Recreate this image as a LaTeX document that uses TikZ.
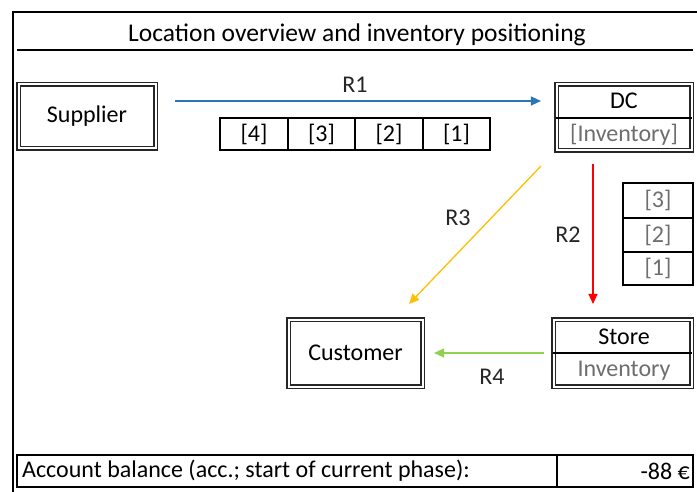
\documentclass[tikz,border=0pt]{standalone}
\usepackage{fontspec}
\setmainfont{Carlito}
\usetikzlibrary{arrows.meta}
\definecolor{arrblue}{RGB}{46,117,182}
\definecolor{arrred}{RGB}{255,0,0}
\definecolor{arryellow}{RGB}{255,192,0}
\definecolor{arrgreen}{RGB}{146,208,80}
\definecolor{invgray}{RGB}{110,110,110}
\begin{document}
\begin{tikzpicture}[x=1pt,y=-1pt,
  every node/.style={font=\fontsize{24}{28}\selectfont, inner sep=0pt},
  loc/.style={draw=black!85, line width=1.1pt, double=white, double distance=2pt, rectangle},
  cell/.style={draw=black, line width=1.1pt, rectangle},
  sep/.style={draw=black, line width=1.1pt},
  flow/.style={line width=1.3pt, -{Triangle[length=10pt,width=9pt]}},
  lbl/.style={text=black!85},
  inv/.style={text=invgray}]
\useasboundingbox (0,0) rectangle (697,492);
\fill[white] (0,0) rectangle (697,492);

% outer frame and title
\draw[line width=1.1pt] (13,492) -- (13,12) -- (697,12);
\node[font=\fontsize{25.5}{30}\selectfont] (title) at (357,35) {Location overview and inventory positioning};
\draw[line width=1.1pt] (17,50) -- (693,50);

% locations
\node[loc, minimum width=137pt, minimum height=64pt] (supplier) at (87,116.5) {Supplier};
\node[loc, minimum width=135pt, minimum height=66pt] (dc) at (624,117.5) {};
\draw[sep] (dc.west |- 0,118) -- (dc.east |- 0,118);
\node (dctop) at (624,101) {DC};
\node[inv] (dcbot) at (624,135) {[Inventory]};

\node[loc, minimum width=134pt, minimum height=67pt] (customer) at (355.5,353) {Customer};
\node[loc, minimum width=138pt, minimum height=67pt] (store) at (622.5,353) {};
\draw[sep] (store.west |- 0,353) -- (store.east |- 0,353);
\node (storetop) at (624,337) {Store};
\node[inv] (storebot) at (624,371) {Inventory};

% pipeline supplier -> DC
\node[cell, minimum width=68pt, minimum height=32pt] (q4) at (254,134) {[4]};
\node[cell, minimum width=67pt, minimum height=32pt] (q3) at (321.5,134) {[3]};
\node[cell, minimum width=68pt, minimum height=32pt] (q2) at (389,134) {[2]};
\node[cell, minimum width=67pt, minimum height=32pt] (q1) at (456.5,134) {[1]};

% pipeline DC -> store
\node[cell, inv, minimum width=70pt, minimum height=35pt] (v3) at (658,200.5) {[3]};
\node[cell, inv, minimum width=70pt, minimum height=34pt] (v2) at (658,235) {[2]};
\node[cell, inv, minimum width=70pt, minimum height=33pt] (v1) at (658,268.5) {[1]};

% routes
\draw[flow, arrblue] ([xshift=19pt]supplier.east |- dctop) -- ([xshift=-15pt]dc.west |- dctop);
\node[lbl] (r1) at (355,85) {R1};
\draw[flow, arrred] ([shift={(-31,13)}]dc.south) -- ([shift={(-29.5,-15)}]store.north);
\node[lbl] (r2) at (568,235) {R2};
\draw[flow, arryellow] ([shift={(-15,15)}]dc.south west) -- ([shift={(-14,-15)}]customer.north east);
\node[lbl] (r3) at (458,218) {R3};
\draw[flow, arrgreen] ([xshift=-9pt]store.west) -- ([xshift=11pt]customer.east);
\node[lbl] (r4) at (492,377) {R4};

% account balance
\node[cell, minimum width=676pt, minimum height=32pt] (balance) at (355,471) {};
\draw[sep] (557,455) -- (557,487);
\node[anchor=west] (baltext) at (22,471) {Account balance (acc.; start of current phase):};
\node[anchor=east] (balvalue) at (690,471) {-88 €};
\end{tikzpicture}
\end{document}
